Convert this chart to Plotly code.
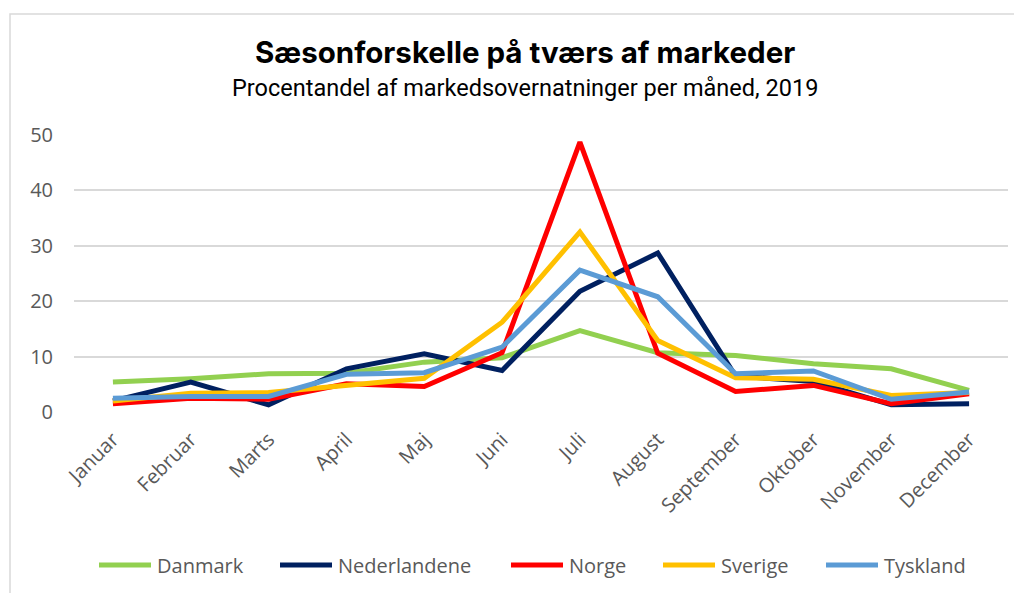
import plotly.graph_objects as go

months = ["Januar", "Februar", "Marts", "April", "Maj", "Juni", "Juli",
          "August", "September", "Oktober", "November", "December"]

danmark = [5.4, 6.0, 6.9, 7.0, 9.0, 9.8, 14.7, 10.7, 10.2, 8.7, 7.8, 3.9]
nederlandene = [2.0, 5.4, 1.3, 7.8, 10.5, 7.5, 21.8, 28.7, 6.5, 5.5, 1.3, 1.5]
norge = [1.5, 2.5, 2.3, 5.1, 4.6, 10.7, 48.7, 10.6, 3.7, 4.8, 1.5, 3.3]
sverige = [2.0, 3.4, 3.5, 4.8, 6.1, 16.2, 32.5, 12.9, 6.2, 5.9, 3.0, 3.5]
tyskland = [2.5, 2.8, 2.8, 6.8, 7.1, 11.7, 25.6, 20.8, 6.9, 7.4, 2.3, 3.6]

series_names = ["Danmark", "Nederlandene", "Norge", "Sverige", "Tyskland"]
series_values = [danmark, nederlandene, norge, sverige, tyskland]
series_colors = ["#92D050", "#002060", "#FF0000", "#FFC000", "#5B9BD5"]

title = "Sæsonforskelle på tværs af markeder"
subtitle = "Procentandel af markedsovernatninger per måned, 2019"

fig = go.Figure()
for name, vals, color in zip(series_names, series_values, series_colors):
    fig.add_trace(go.Scatter(
        x=months, y=vals, name=name, mode="lines",
        line=dict(color=color, width=5, shape="linear"),
        showlegend=False,
    ))

# page body has an 8px margin: work in window pixels, offset by 8
OFF = 8
W, H = 1022 - OFF, 593 - OFF
plot_left, plot_right, plot_top, plot_bottom = 74 - OFF, 1008 - OFF, 135 - OFF, 412 - OFF
L, R, T, B = plot_left, W - plot_right, plot_top, H - plot_bottom
pw, ph = W - L - R, H - T - B


def px_x(px):
    return (px - OFF - L) / pw


def px_y(py):
    return (H - B - (py - OFF)) / ph


# legend drawn as keys + labels (window pixel layout positions)
legend_key_x = [97, 278, 509, 661, 824]
legend_key_len = 56
legend_y = 565

shapes = [dict(type="rect", xref="paper", yref="paper",
               x0=px_x(10), x1=px_x(1040), y0=px_y(610), y1=px_y(14),
               line=dict(color="#D9D9D9", width=1.5), layer="below")]
annotations = [
    dict(text=f"<b>{title}</b>", xref="paper", yref="paper",
         x=px_x(525), y=px_y(52), xanchor="center", yanchor="middle",
         showarrow=False,
         font=dict(family="Inter", size=29.5, color="#000000")),
    dict(text=subtitle, xref="paper", yref="paper",
         x=px_x(525), y=px_y(88), xanchor="center", yanchor="middle",
         showarrow=False,
         font=dict(family="Roboto", size=23.5, color="#000000")),
]
for name, color, kx in zip(series_names, series_colors, legend_key_x):
    shapes.append(dict(type="line", xref="paper", yref="paper",
                       x0=px_x(kx + 2), x1=px_x(kx + legend_key_len - 2),
                       y0=px_y(legend_y), y1=px_y(legend_y),
                       line=dict(color=color, width=5)))
    annotations.append(dict(text=name, xref="paper", yref="paper",
                            x=px_x(kx + legend_key_len + 2), y=px_y(legend_y),
                            xanchor="left", yanchor="middle", showarrow=False,
                            font=dict(family="Open Sans", size=20,
                                      color="#595959")))

fig.update_layout(
    width=W, height=H,
    margin=dict(l=L, r=R, t=T, b=B, autoexpand=False),
    paper_bgcolor="white", plot_bgcolor="white",
    font=dict(family="Open Sans", color="#595959", size=18),
    showlegend=False,
    xaxis=dict(type="category", categoryorder="array", categoryarray=months,
               range=[-0.5, 11.5], showgrid=False, zeroline=False,
               showline=False, ticks="", tickangle=-45,
               ticklabelstandoff=11,
               tickfont=dict(size=20, color="#595959")),
    yaxis=dict(range=[0, 50], tickvals=[0, 10, 20, 30, 40, 50],
               showgrid=True, gridcolor="#D9D9D9", gridwidth=1.5,
               zeroline=False, showline=False, ticks="",
               ticklabelstandoff=20,
               tickfont=dict(size=20, color="#595959")),
    shapes=shapes,
    annotations=annotations,
)

fig.write_html("out.html")
